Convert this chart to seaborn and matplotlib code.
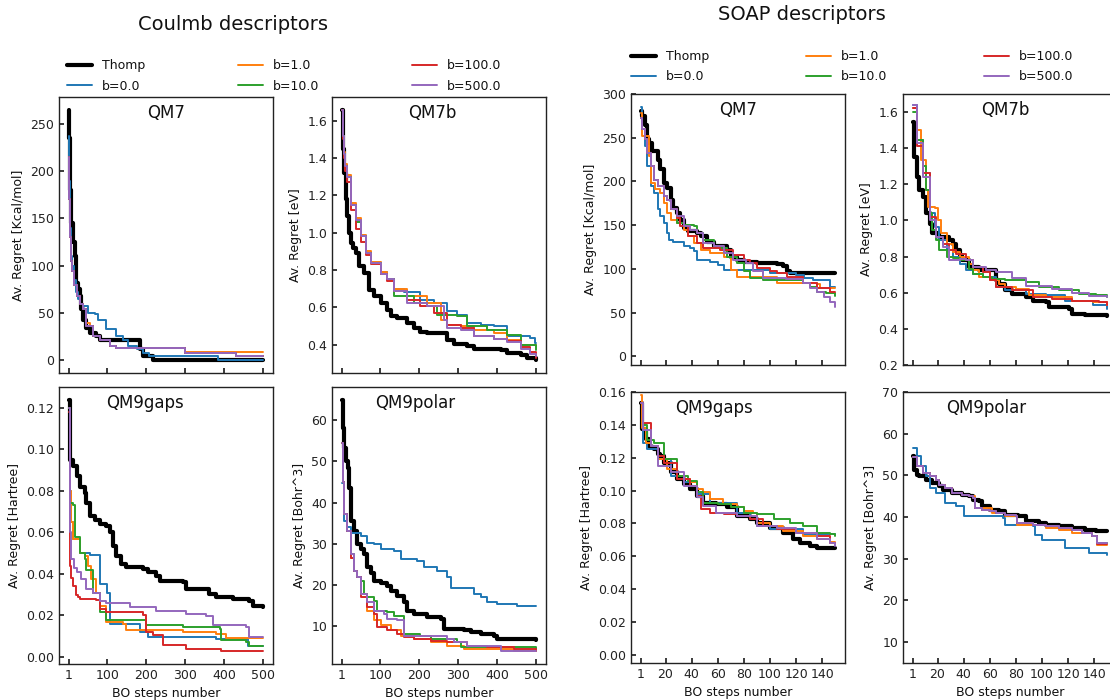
import matplotlib
matplotlib.use("Agg")
import matplotlib.pyplot as plt
import seaborn as sns
from matplotlib.lines import Line2D

# ---------------- data ----------------
labels = ["Thomp", "b=0.0", "b=1.0", "b=10.0", "b=100.0", "b=500.0"]

# Coulomb / QM7
cm_qm7_thomp_x = [1, 2, 4, 8, 12, 16, 20, 25, 29, 33, 38, 46, 55, 72, 80, 174, 183, 191, 217, 230, 500]
cm_qm7_thomp_y = [265, 235, 180, 145, 125, 110, 82, 75, 68, 54, 43, 34, 29, 26, 22, 22, 12, 5, 1, 0, 0]
cm_qm7_b0_x = [1, 2, 4, 7, 10, 15, 20, 25, 30, 38, 50, 68, 76, 97, 123, 140, 153, 175, 191, 208, 383, 500]
cm_qm7_b0_y = [237, 190, 140, 110, 100, 85, 72, 65, 60, 57, 50, 49, 43, 33, 26, 22, 15, 12, 8, 5, 0, 0]
cm_qm7_b1_x = [1, 2, 4, 7, 10, 15, 21, 29, 38, 46, 55, 63, 80, 106, 123, 300, 500]
cm_qm7_b1_y = [215, 170, 130, 105, 95, 80, 68, 60, 54, 40, 36, 26, 22, 15, 13, 8.7, 8.7]
cm_qm7_b10_x = [1, 2, 4, 7, 10, 15, 21, 29, 38, 46, 63, 80, 106, 123, 300, 430, 500]
cm_qm7_b10_y = [215, 170, 130, 105, 95, 80, 68, 60, 54, 36, 26, 22, 15, 13, 8, 4.5, 4.5]
cm_qm7_b100_x = [1, 2, 4, 7, 10, 15, 21, 29, 38, 46, 63, 80, 106, 123, 300, 430, 500]
cm_qm7_b100_y = [215, 170, 130, 105, 95, 80, 68, 60, 54, 36, 26, 22, 15, 13, 8, 4.5, 4.5]
cm_qm7_b500_x = [1, 2, 4, 7, 10, 15, 21, 29, 38, 46, 63, 80, 106, 123, 300, 430, 500]
cm_qm7_b500_y = [215, 170, 130, 105, 95, 80, 68, 60, 54, 36, 26, 22, 15, 13, 8, 4.5, 4.5]

# Coulomb / QM7b
cm_qm7b_thomp_x = [1, 4, 7, 11, 15, 20, 24, 30, 37, 45, 58, 71, 84, 101, 118, 127, 144, 169, 186, 203, 221, 263, 272, 289, 323, 340, 392, 409, 426, 460, 477, 500]
cm_qm7b_thomp_y = [1.66, 1.45, 1.32, 1.18, 1.09, 1.0, 0.946, 0.92, 0.89, 0.82, 0.785, 0.695, 0.66, 0.624, 0.588, 0.552, 0.543, 0.516, 0.49, 0.47, 0.463, 0.463, 0.427, 0.405, 0.395, 0.38, 0.38, 0.37, 0.355, 0.346, 0.33, 0.316]
cm_qm7b_b0_x = [1, 3, 6, 10, 15, 24, 37, 50, 62, 75, 101, 118, 135, 161, 203, 238, 272, 297, 323, 357, 392, 426, 485, 498, 500]
cm_qm7b_b0_y = [1.66, 1.52, 1.42, 1.36, 1.30, 1.15, 1.07, 0.98, 0.89, 0.84, 0.79, 0.75, 0.70, 0.68, 0.64, 0.624, 0.58, 0.56, 0.516, 0.507, 0.498, 0.445, 0.436, 0.41, 0.41]
cm_qm7b_b1_x = [1, 3, 6, 10, 15, 24, 37, 50, 62, 75, 101, 118, 135, 169, 221, 255, 272, 306, 340, 392, 426, 460, 500]
cm_qm7b_b1_y = [1.66, 1.52, 1.43, 1.37, 1.31, 1.16, 1.08, 0.99, 0.90, 0.845, 0.79, 0.75, 0.70, 0.66, 0.624, 0.534, 0.507, 0.498, 0.48, 0.463, 0.427, 0.40, 0.40]
cm_qm7b_b10_x = [1, 3, 6, 10, 15, 24, 37, 50, 62, 75, 101, 118, 135, 186, 221, 246, 297, 323, 374, 426, 460, 500]
cm_qm7b_b10_y = [1.66, 1.52, 1.42, 1.36, 1.30, 1.15, 1.06, 0.98, 0.89, 0.84, 0.78, 0.75, 0.66, 0.624, 0.606, 0.561, 0.552, 0.498, 0.48, 0.454, 0.40, 0.373]
cm_qm7b_b100_x = [1, 3, 6, 10, 15, 24, 37, 50, 62, 75, 101, 118, 135, 169, 203, 238, 272, 306, 340, 392, 426, 460, 485, 500]
cm_qm7b_b100_y = [1.66, 1.50, 1.40, 1.33, 1.27, 1.12, 1.02, 0.95, 0.88, 0.83, 0.78, 0.74, 0.69, 0.642, 0.606, 0.57, 0.507, 0.49, 0.445, 0.43, 0.42, 0.39, 0.36, 0.33]
cm_qm7b_b500_x = [1, 3, 6, 10, 15, 24, 37, 50, 62, 75, 101, 118, 135, 169, 221, 263, 272, 306, 340, 392, 426, 460, 485, 500]
cm_qm7b_b500_y = [1.66, 1.52, 1.42, 1.36, 1.30, 1.15, 1.07, 0.98, 0.89, 0.84, 0.78, 0.75, 0.69, 0.624, 0.606, 0.534, 0.49, 0.48, 0.445, 0.43, 0.415, 0.38, 0.35, 0.34]

# Coulomb / QM9gaps
cm_gaps_thomp_x = [1, 5, 12, 21, 29, 42, 46, 55, 68, 80, 97, 106, 114, 123, 136, 149, 191, 204, 225, 234, 294, 302, 362, 379, 422, 464, 473, 500]
cm_gaps_thomp_y = [0.124, 0.095, 0.092, 0.087, 0.082, 0.079, 0.074, 0.068, 0.066, 0.064, 0.063, 0.060, 0.0536, 0.0488, 0.0448, 0.0432, 0.0424, 0.0408, 0.0392, 0.0368, 0.036, 0.0328, 0.0304, 0.0288, 0.028, 0.0272, 0.0248, 0.024]
cm_gaps_b0_x = [1, 3, 6, 12, 29, 55, 80, 97, 100, 106, 183, 204, 379, 460, 500]
cm_gaps_b0_y = [0.12, 0.08, 0.065, 0.057, 0.05, 0.049, 0.0352, 0.035, 0.031, 0.016, 0.012, 0.0096, 0.0088, 0.0052, 0.0052]
cm_gaps_b1_x = [1, 3, 6, 12, 29, 42, 50, 59, 72, 80, 97, 140, 149, 294, 379, 405, 500]
cm_gaps_b1_y = [0.12, 0.08, 0.065, 0.057, 0.05, 0.0488, 0.044, 0.0376, 0.031, 0.0248, 0.0168, 0.016, 0.0128, 0.012, 0.0112, 0.0092, 0.0092]
cm_gaps_b10_x = [1, 3, 12, 16, 29, 42, 46, 63, 80, 97, 200, 294, 388, 392, 456, 464, 500]
cm_gaps_b10_y = [0.12, 0.074, 0.073, 0.058, 0.05, 0.047, 0.042, 0.031, 0.0216, 0.0176, 0.0152, 0.0144, 0.0136, 0.008, 0.0072, 0.0052, 0.0052]
cm_gaps_b100_x = [1, 3, 5, 8, 12, 20, 25, 29, 72, 80, 97, 131, 191, 200, 217, 242, 302, 388, 392, 500]
cm_gaps_b100_y = [0.118, 0.07, 0.044, 0.038, 0.034, 0.030, 0.0288, 0.028, 0.0277, 0.023, 0.0216, 0.0216, 0.02, 0.012, 0.0104, 0.0056, 0.004, 0.004, 0.0027, 0.0027]
cm_gaps_b500_x = [1, 3, 5, 8, 14, 21, 33, 46, 63, 80, 97, 149, 157, 225, 302, 353, 370, 456, 464, 500]
cm_gaps_b500_y = [0.12, 0.08, 0.06, 0.047, 0.043, 0.041, 0.0376, 0.0328, 0.031, 0.027, 0.026, 0.026, 0.024, 0.0224, 0.0208, 0.0197, 0.0152, 0.0144, 0.0096, 0.0096]

# Coulomb / QM9polar
cm_polar_thomp_x = [1, 4, 7, 12, 16, 20, 24, 33, 41, 50, 58, 67, 75, 84, 101, 118, 127, 144, 161, 169, 186, 221, 255, 263, 315, 332, 357, 392, 400, 500]
cm_polar_thomp_y = [65, 58, 53.3, 50, 48.5, 43.6, 35.6, 33.1, 29.9, 28.7, 27.5, 24.3, 23, 21, 20.6, 19.8, 18.6, 17.4, 15.8, 13.8, 13, 12.2, 11.8, 9.4, 9, 8.5, 8.1, 7.7, 6.9, 6.7]
cm_polar_b0_x = [1, 7, 15, 24, 50, 67, 84, 101, 135, 152, 195, 212, 246, 272, 280, 323, 340, 357, 374, 400, 443, 451, 500]
cm_polar_b0_y = [44.8, 35.6, 34, 32.7, 31.9, 30.3, 29.9, 28.7, 28.3, 26.3, 25.9, 24.3, 23.5, 21.9, 19.4, 19.4, 17.8, 17, 15.8, 15.4, 15.4, 14.8, 14.8]
cm_polar_b1_x = [1, 4, 7, 15, 24, 33, 41, 50, 67, 84, 101, 127, 152, 186, 229, 272, 315, 400, 443, 500]
cm_polar_b1_y = [54.5, 45, 37.2, 33.1, 26.5, 23.5, 21.9, 17.8, 13.8, 11.4, 10.2, 9, 7.7, 6.9, 6.1, 5.3, 4.5, 4.5, 3.9, 3.9]
cm_polar_b10_x = [1, 4, 7, 15, 24, 33, 41, 50, 58, 67, 84, 92, 118, 135, 161, 203, 229, 297, 306, 500]
cm_polar_b10_y = [54.5, 45, 37.2, 33.1, 27.5, 23.5, 21.9, 21, 17.8, 17, 16.2, 13.8, 13.4, 12.6, 8.1, 7.7, 6.9, 6.1, 4.9, 4.6]
cm_polar_b100_x = [1, 4, 7, 15, 24, 33, 41, 50, 67, 84, 92, 118, 144, 161, 186, 229, 272, 323, 374, 443, 500]
cm_polar_b100_y = [54.5, 45, 37.2, 33.1, 26.5, 23.5, 21.9, 17, 14.6, 13, 9.8, 9, 8.1, 7.3, 6.9, 6.5, 6.1, 5.3, 4.9, 4.5, 4.1]
cm_polar_b500_x = [1, 4, 7, 15, 24, 33, 41, 50, 67, 84, 110, 118, 144, 161, 263, 272, 289, 323, 400, 409, 500]
cm_polar_b500_y = [54.5, 45, 37.2, 33.1, 27.5, 23.5, 21.9, 17.8, 15.8, 13.8, 13, 11.8, 11.4, 7.7, 7.7, 6.9, 6.1, 5.3, 5.3, 4.1, 4.1]

# SOAP / QM7
sp_qm7_thomp_x = [1, 2, 4, 6, 7, 10, 14, 16, 19, 21, 24, 26, 29, 31, 34, 37, 44, 47, 52, 57, 67, 70, 75, 80, 90, 105, 110, 113, 115, 150]
sp_qm7_thomp_y = [281, 275, 264, 248, 244, 235, 225, 214, 198, 193, 179, 170, 164, 156, 147, 143, 141, 137, 131, 126, 122, 114, 110, 108, 106.5, 105, 103, 97, 95, 95]
sp_qm7_b0_x = [1, 2, 4, 6, 9, 11, 14, 16, 19, 21, 23, 26, 34, 39, 42, 44, 54, 60, 65, 90, 100, 120, 126, 133, 146, 150]
sp_qm7_b0_y = [285, 260, 240, 218, 195, 187, 168, 160, 152.5, 141, 133, 131, 126, 124, 120, 110, 108, 104.6, 99, 99, 95, 93, 89, 87, 79.7, 79]
sp_qm7_b1_x = [1, 2, 7, 9, 12, 16, 19, 21, 24, 29, 34, 37, 42, 47, 54, 65, 70, 75, 100, 105, 136, 138, 150]
sp_qm7_b1_y = [278, 252, 229, 198, 191, 187, 175, 164, 156, 152.5, 145, 137, 129.5, 122, 118, 114, 99, 91, 91, 83.5, 83, 78, 78]
sp_qm7_b10_x = [1, 2, 4, 6, 9, 11, 14, 19, 21, 24, 29, 34, 42, 44, 49, 57, 67, 75, 80, 85, 95, 120, 125, 131, 136, 143, 150]
sp_qm7_b10_y = [272, 260, 248, 233, 218, 202, 195, 183, 179, 168, 152.5, 150.6, 148.7, 141, 133, 124, 114, 106.5, 97, 89, 87, 87, 83.5, 79.7, 74, 72, 69]
sp_qm7_b100_x = [1, 2, 4, 6, 9, 11, 14, 19, 21, 24, 29, 31, 37, 44, 49, 62, 72, 80, 85, 90, 100, 105, 113, 125, 136, 146, 150]
sp_qm7_b100_y = [272, 260, 248, 233, 218, 202, 195, 183, 179, 168, 158, 148.7, 137, 129.5, 124, 122, 116, 110, 106.5, 101, 97, 95, 91, 83.5, 78, 74, 73]
sp_qm7_b500_x = [1, 2, 4, 6, 9, 11, 14, 19, 21, 24, 29, 34, 39, 44, 49, 57, 65, 72, 82, 87, 95, 112, 125, 131, 136, 141, 146, 150]
sp_qm7_b500_y = [272, 260, 248, 233, 218, 202, 195, 183, 179, 168, 160, 148.7, 145, 141, 129.5, 126, 118, 110, 106.5, 97, 90, 88, 83.5, 78, 74, 68, 62.5, 56.7]

# SOAP / QM7b
sp_qm7b_thomp_x = [1, 2, 4, 6, 9, 11, 14, 16, 21, 27, 29, 32, 34, 37, 39, 44, 52, 62, 65, 67, 72, 77, 88, 93, 103, 105, 121, 123, 133, 144, 150]
sp_qm7b_thomp_y = [1.544, 1.354, 1.243, 1.17, 1.13, 1.04, 0.98, 0.928, 0.909, 0.909, 0.89, 0.872, 0.835, 0.807, 0.78, 0.743, 0.724, 0.724, 0.668, 0.65, 0.613, 0.594, 0.576, 0.557, 0.548, 0.52, 0.511, 0.483, 0.478, 0.474, 0.47]
sp_qm7b_b0_x = [1, 4, 9, 14, 18, 21, 27, 32, 37, 42, 47, 55, 65, 72, 88, 103, 118, 139, 150]
sp_qm7b_b0_y = [1.64, 1.446, 1.26, 1.04, 0.965, 0.89, 0.835, 0.8, 0.76, 0.724, 0.705, 0.687, 0.631, 0.613, 0.594, 0.585, 0.557, 0.53, 0.511]
sp_qm7b_b1_x = [1, 4, 7, 11, 13, 18, 20, 23, 27, 32, 37, 44, 47, 52, 60, 67, 72, 80, 90, 103, 123, 139, 150]
sp_qm7b_b1_y = [1.62, 1.5, 1.335, 1.17, 1.076, 1.067, 1.0, 0.928, 0.872, 0.826, 0.8, 0.76, 0.724, 0.687, 0.668, 0.65, 0.63, 0.622, 0.585, 0.576, 0.557, 0.548, 0.53]
sp_qm7b_b10_x = [1, 4, 9, 11, 14, 16, 19, 21, 27, 32, 37, 44, 47, 55, 62, 72, 88, 98, 113, 128, 141, 150]
sp_qm7b_b10_y = [1.60, 1.446, 1.3, 1.17, 1.04, 0.946, 0.89, 0.835, 0.8, 0.79, 0.78, 0.733, 0.705, 0.687, 0.678, 0.668, 0.66, 0.631, 0.613, 0.594, 0.585, 0.576]
sp_qm7b_b100_x = [1, 4, 9, 14, 19, 24, 29, 34, 42, 47, 55, 60, 65, 77, 93, 108, 123, 144, 150]
sp_qm7b_b100_y = [1.62, 1.41, 1.26, 1.02, 0.909, 0.872, 0.835, 0.817, 0.78, 0.743, 0.715, 0.668, 0.631, 0.613, 0.576, 0.567, 0.557, 0.548, 0.53]
sp_qm7b_b500_x = [1, 4, 9, 14, 19, 24, 29, 37, 42, 47, 57, 65, 77, 88, 108, 123, 136, 150]
sp_qm7b_b500_y = [1.64, 1.43, 1.24, 1.0, 0.909, 0.854, 0.78, 0.789, 0.78, 0.743, 0.724, 0.715, 0.68, 0.64, 0.62, 0.60, 0.58, 0.575]

# SOAP / QM9gaps
sp_gaps_thomp_x = [1, 2, 5, 7, 9, 11, 14, 16, 19, 24, 29, 34, 39, 44, 49, 59, 67, 75, 85, 90, 100, 110, 118, 123, 131, 136, 150]
sp_gaps_thomp_y = [0.153, 0.1376, 0.1315, 0.1274, 0.1264, 0.1254, 0.122, 0.121, 0.117, 0.111, 0.107, 0.104, 0.101, 0.0968, 0.0927, 0.0917, 0.0897, 0.0846, 0.0825, 0.0805, 0.0775, 0.0744, 0.0703, 0.0683, 0.0662, 0.0652, 0.065]
sp_gaps_b0_x = [1, 3, 6, 14, 24, 34, 44, 54, 75, 85, 90, 100, 120, 125, 141, 150]
sp_gaps_b0_y = [0.153, 0.129, 0.125, 0.119, 0.109, 0.105, 0.0978, 0.0927, 0.0866, 0.0825, 0.0785, 0.0764, 0.0764, 0.0734, 0.0734, 0.073]
sp_gaps_b1_x = [1, 2, 5, 9, 14, 21, 29, 34, 39, 44, 49, 54, 64, 75, 80, 87, 90, 100, 110, 125, 136, 146, 150]
sp_gaps_b1_y = [0.158, 0.138, 0.129, 0.127, 0.119, 0.113, 0.109, 0.107, 0.105, 0.101, 0.099, 0.0948, 0.0917, 0.0897, 0.0876, 0.0866, 0.0805, 0.0785, 0.0754, 0.0724, 0.0703, 0.0687, 0.0687]
sp_gaps_b10_x = [1, 3, 6, 11, 19, 29, 37, 44, 49, 60, 70, 80, 90, 103, 115, 125, 136, 146, 150]
sp_gaps_b10_y = [0.153, 0.140, 0.131, 0.129, 0.119, 0.109, 0.106, 0.099, 0.0927, 0.0917, 0.0897, 0.0866, 0.0856, 0.0825, 0.0805, 0.0785, 0.0744, 0.0734, 0.0724]
sp_gaps_b100_x = [1, 3, 9, 14, 19, 29, 39, 44, 47, 54, 65, 75, 85, 95, 105, 120, 136, 146, 150]
sp_gaps_b100_y = [0.153, 0.141, 0.127, 0.121, 0.117, 0.107, 0.103, 0.0968, 0.0887, 0.0866, 0.0860, 0.0846, 0.0825, 0.0785, 0.0764, 0.0744, 0.0724, 0.0683, 0.0673]
sp_gaps_b500_x = [1, 3, 9, 14, 24, 34, 44, 49, 59, 75, 90, 105, 120, 136, 146, 150]
sp_gaps_b500_y = [0.153, 0.137, 0.127, 0.115, 0.111, 0.103, 0.0958, 0.0907, 0.0866, 0.0846, 0.0785, 0.0775, 0.0744, 0.0703, 0.0683, 0.066]

# SOAP / QM9polar
sp_polar_thomp_x = [1, 2, 4, 6, 11, 16, 21, 24, 31, 39, 44, 47, 52, 54, 60, 67, 72, 82, 88, 98, 103, 113, 123, 133, 141, 150]
sp_polar_thomp_y = [54.6, 51.4, 50.2, 49.8, 49, 48.2, 47.4, 46.6, 45.8, 45.4, 45, 44.2, 43.8, 42.6, 41.8, 41.4, 40.6, 40.2, 39, 38.6, 38.2, 37.8, 37.4, 37, 36.6, 36.6]
sp_polar_b0_x = [1, 4, 7, 11, 14, 19, 26, 34, 40, 70, 72, 93, 95, 100, 118, 136, 150]
sp_polar_b0_y = [56.6, 54.6, 52.2, 49.8, 47, 45.8, 43.4, 42.6, 40.2, 39.8, 38.2, 37.8, 35.8, 34.6, 32.6, 31.4, 31]
sp_polar_b1_x = [1, 4, 9, 14, 19, 21, 26, 31, 39, 44, 49, 62, 72, 81, 103, 113, 123, 138, 142, 150]
sp_polar_b1_y = [54.5, 52.2, 50.6, 49.8, 49, 47.8, 47, 45.8, 45.4, 45, 42.2, 41, 40.2, 38.2, 37.4, 37, 36.2, 35.4, 33.4, 33.4]
sp_polar_b10_x = [1, 4, 9, 14, 19, 21, 26, 31, 39, 44, 47, 49, 54, 60, 65, 72, 80, 81, 93, 103, 113, 123, 131, 138, 142, 150]
sp_polar_b10_y = [54.5, 52.2, 50.6, 49.8, 49, 47.8, 47, 45.8, 45.4, 45, 44.6, 42.2, 41.8, 41.4, 41, 40.6, 40.2, 38.6, 38.2, 37.8, 37.4, 37, 36.2, 35.4, 33.8, 33.8]
sp_polar_b100_x = [1, 4, 9, 14, 19, 21, 26, 31, 39, 44, 47, 49, 54, 60, 65, 72, 80, 81, 93, 103, 113, 123, 131, 138, 142, 150]
sp_polar_b100_y = [54.5, 52.2, 50.6, 49.8, 49, 47.8, 47, 45.8, 45.4, 45, 44.6, 42.2, 41.8, 41.4, 41, 40.6, 40.2, 38.6, 38.2, 37.8, 37.4, 37, 36.2, 35.4, 33.6, 33.6]
sp_polar_b500_x = [1, 4, 9, 14, 19, 21, 26, 31, 39, 44, 47, 49, 54, 60, 65, 72, 80, 81, 93, 103, 113, 123, 131, 138, 142, 150]
sp_polar_b500_y = [54.5, 52.2, 50.6, 49.8, 49, 47.8, 47, 45.8, 45.4, 45, 44.6, 42.2, 41.8, 41.4, 41, 40.6, 40.2, 38.6, 38.2, 37.8, 37.4, 37, 36.2, 35.4, 33.8, 33.8]

cm_xticks = [1, 100, 200, 300, 400, 500]
sp_xticks = [1, 20, 40, 60, 80, 100, 120, 140]

# ---------------- style ----------------
sns.set_theme(style="ticks", rc={
    "xtick.direction": "in", "ytick.direction": "in",
    "axes.edgecolor": "#222222", "axes.linewidth": 1.0,
    "xtick.color": "#222222", "ytick.color": "#222222",
    "text.color": "#111111", "axes.labelcolor": "#111111",
    "xtick.major.size": 3.5, "ytick.major.size": 3.5,
})
plt.rcParams["font.family"] = ["DejaVu Sans"]

colors = ["black"] + list(sns.color_palette("tab10", 5))
widths = [3.0, 1.4, 1.4, 1.4, 1.4, 1.4]

fig = plt.figure(figsize=(11.1, 7), dpi=100)
W, H = 1110.0, 700.0


def rect(left, right, top, bottom):
    return [left / W, 1 - bottom / H, (right - left) / W, (bottom - top) / H]


def panel(r, series, title, tx, ylabel, xticks, bottom_row, ylim=None, yticks=None):
    ax = fig.add_axes(r)
    for i, (x, y) in enumerate(series):
        sns.lineplot(x=x, y=y, ax=ax, color=colors[i], linewidth=widths[i],
                     drawstyle="steps-post", legend=False, errorbar=None, sort=False)
    ax.set_xticks(xticks)
    if ylim is not None:
        ax.set_ylim(*ylim)
    if yticks is not None:
        ax.set_yticks(yticks)
    ax.tick_params(labelsize=9, top=False, right=False)
    ax.set_ylabel(ylabel, fontsize=9)
    if bottom_row:
        ax.set_xlabel("BO steps number", fontsize=9)
    else:
        ax.set_xlabel("")
        ax.tick_params(labelbottom=False)
    ax.text(tx, 0.942, title, transform=ax.transAxes, ha="center", va="center", fontsize=12)
    return ax


panel(rect(59, 273, 97, 373),
      [(cm_qm7_thomp_x, cm_qm7_thomp_y), (cm_qm7_b0_x, cm_qm7_b0_y), (cm_qm7_b1_x, cm_qm7_b1_y),
       (cm_qm7_b10_x, cm_qm7_b10_y), (cm_qm7_b100_x, cm_qm7_b100_y), (cm_qm7_b500_x, cm_qm7_b500_y)],
      "QM7", 0.5, "Av. Regret [Kcal/mol]", cm_xticks, False)
panel(rect(332, 546, 97, 373),
      [(cm_qm7b_thomp_x, cm_qm7b_thomp_y), (cm_qm7b_b0_x, cm_qm7b_b0_y), (cm_qm7b_b1_x, cm_qm7b_b1_y),
       (cm_qm7b_b10_x, cm_qm7b_b10_y), (cm_qm7b_b100_x, cm_qm7b_b100_y), (cm_qm7b_b500_x, cm_qm7b_b500_y)],
      "QM7b", 0.47, "Av. Regret [eV]", cm_xticks, False)
panel(rect(59, 273, 387, 664),
      [(cm_gaps_thomp_x, cm_gaps_thomp_y), (cm_gaps_b0_x, cm_gaps_b0_y), (cm_gaps_b1_x, cm_gaps_b1_y),
       (cm_gaps_b10_x, cm_gaps_b10_y), (cm_gaps_b100_x, cm_gaps_b100_y), (cm_gaps_b500_x, cm_gaps_b500_y)],
      "QM9gaps", 0.40, "Av. Regret [Hartree]", cm_xticks, True)
panel(rect(332, 546, 387, 664),
      [(cm_polar_thomp_x, cm_polar_thomp_y), (cm_polar_b0_x, cm_polar_b0_y), (cm_polar_b1_x, cm_polar_b1_y),
       (cm_polar_b10_x, cm_polar_b10_y), (cm_polar_b100_x, cm_polar_b100_y), (cm_polar_b500_x, cm_polar_b500_y)],
      "QM9polar", 0.39, "Av. Regret [Bohr^3]", cm_xticks, True)

panel(rect(631, 845, 94, 365),
      [(sp_qm7_thomp_x, sp_qm7_thomp_y), (sp_qm7_b0_x, sp_qm7_b0_y), (sp_qm7_b1_x, sp_qm7_b1_y),
       (sp_qm7_b10_x, sp_qm7_b10_y), (sp_qm7_b100_x, sp_qm7_b100_y), (sp_qm7_b500_x, sp_qm7_b500_y)],
      "QM7", 0.50, "Av. Regret [Kcal/mol]", sp_xticks, False, ylim=(-10, 300),
      yticks=[0, 50, 100, 150, 200, 250, 300])
panel(rect(903, 1117, 94, 365),
      [(sp_qm7b_thomp_x, sp_qm7b_thomp_y), (sp_qm7b_b0_x, sp_qm7b_b0_y), (sp_qm7b_b1_x, sp_qm7b_b1_y),
       (sp_qm7b_b10_x, sp_qm7b_b10_y), (sp_qm7b_b100_x, sp_qm7b_b100_y), (sp_qm7b_b500_x, sp_qm7b_b500_y)],
      "QM7b", 0.48, "Av. Regret [eV]", sp_xticks, False, ylim=(0.2, 1.7),
      yticks=[0.2, 0.4, 0.6, 0.8, 1.0, 1.2, 1.4, 1.6])
panel(rect(631, 845, 392, 663),
      [(sp_gaps_thomp_x, sp_gaps_thomp_y), (sp_gaps_b0_x, sp_gaps_b0_y), (sp_gaps_b1_x, sp_gaps_b1_y),
       (sp_gaps_b10_x, sp_gaps_b10_y), (sp_gaps_b100_x, sp_gaps_b100_y), (sp_gaps_b500_x, sp_gaps_b500_y)],
      "QM9gaps", 0.39, "Av. Regret [Hartree]", sp_xticks, True, ylim=(-0.005, 0.16),
      yticks=[0.0, 0.02, 0.04, 0.06, 0.08, 0.10, 0.12, 0.14, 0.16])
panel(rect(903, 1117, 392, 663),
      [(sp_polar_thomp_x, sp_polar_thomp_y), (sp_polar_b0_x, sp_polar_b0_y), (sp_polar_b1_x, sp_polar_b1_y),
       (sp_polar_b10_x, sp_polar_b10_y), (sp_polar_b100_x, sp_polar_b100_y), (sp_polar_b500_x, sp_polar_b500_y)],
      "QM9polar", 0.39, "Av. Regret [Bohr^3]", sp_xticks, True, ylim=(5, 70),
      yticks=[10, 20, 30, 40, 50, 60, 70])

# ---------------- titles & legends ----------------
fig.text(233 / W, 1 - 24 / H, "Coulmb descriptors", ha="center", va="center", fontsize=14)
fig.text(802 / W, 1 - 15 / H, "SOAP descriptors", ha="center", va="center", fontsize=14)

handles = [Line2D([], [], color=colors[i], lw=widths[i]) for i in range(len(labels))]
fig.legend(handles, labels, ncol=3, loc="upper left", bbox_to_anchor=(67 / W, 1 - 59 / H),
           frameon=False, fontsize=9, borderpad=0, borderaxespad=0, columnspacing=7.4,
           labelspacing=0.6)
fig.legend(handles, labels, ncol=3, loc="upper left", bbox_to_anchor=(631 / W, 1 - 50 / H),
           frameon=False, fontsize=9, borderpad=0, borderaxespad=0, columnspacing=7.75,
           labelspacing=0.6)

fig.savefig("out.png", dpi=100)
